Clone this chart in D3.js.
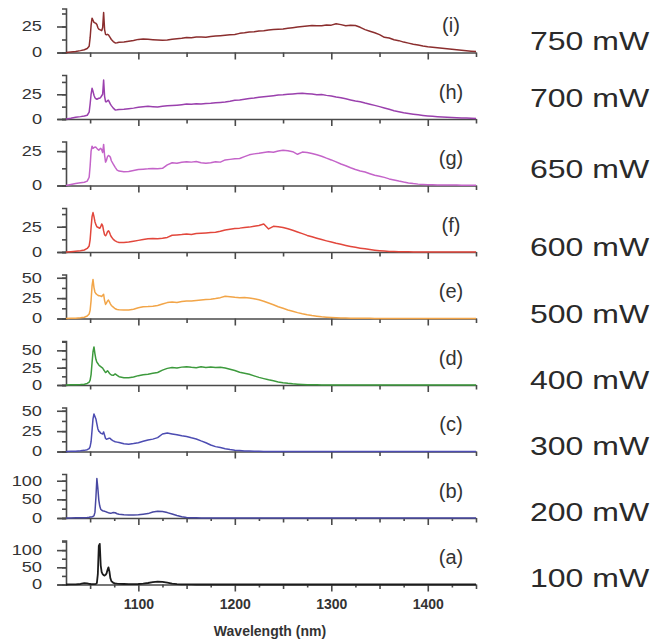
<!DOCTYPE html>
<html><head><meta charset="utf-8">
<script src="https://cdn.jsdelivr.net/npm/d3@7"></script>
<style>
body{margin:0;background:#fff;}
svg{display:block;font-family:"Liberation Sans",Arial,sans-serif;}
</style>
</head><body>
<svg id="chart" width="661" height="642"></svg>
<script>
// ---------------- data ----------------
const wavelength = [1025,1030,1035,1040,1044,1047,1049,1050,1051,1052,1053,1054,1055,1056,1057,1058,1059,1060,1061,1062,1063,1064,1065,1066,1067,1068,1069,1070,1071,1072,1074,1076,1078,
1080,1085,1090,1095,1100,1105,1110,1115,1120,1125,1130,1135,1140,1145,1150,1155,1160,1165,1170,1175,1180,1185,1190,1195,1200,
1205,1210,1215,1220,1225,1230,1235,1240,1245,1250,1255,1260,1265,1270,1275,1280,1285,1290,1295,1300,
1305,1310,1315,1320,1325,1330,1335,1340,1345,1350,1355,1360,1365,1370,1375,1380,1385,1390,1395,1400,
1405,1410,1415,1420,1425,1430,1435,1440,1445,1450];

const panelLetters = ["(i)","(h)","(g)","(f)","(e)","(d)","(c)","(b)","(a)"];
const powerLabels = ["750 mW","700 mW","650 mW","600 mW","500 mW","400 mW","300 mW","200 mW","100 mW"];
const yMax = [42.3,44.5,32,43.5,54,63.5,54,118,128];
const yLabelStep = [25,25,25,25,25,25,25,50,50];
const yMinorStep = [12.5,12.5,12.5,12.5,12.5,12.5,12.5,25,25];
const xMajorTicks = [1100,1200,1300,1400];
const xMinorTicks = [1050,1150,1250,1350,1450];
const xFineTicks = [1075,1125,1175,1225,1275,1325,1375,1425];

const series_i = [0,0.5,1,1.8,2.6,3.8,6,14,26,33,31,29,28.5,28,27,24,22.5,22,21.5,21,24,38.5,22,17.5,17,17.5,17,15.5,14,12.5,10.5,9.2,9.4,
9.8,10.2,10.8,11.5,12.6, 12.9,12.7,12.3,12.0,11.7, 12.1,12.8,13.2,13.6,14.4, 14.2,14.8,15.0,14.7,15.4, 15.8,16.1,16.5,17.0,17.4,
18.4,18.9,19.6,19.9,20.7, 21.0,21.6,22.0,22.4,22.6, 23.3,23.9,24.6,25.0,25.5, 25.9,25.6,25.8,26.5,26.3,
27.6,26.8,25.7,26.3,25.9, 24.2,22.0,20.5,19.0,17.2, 14.6,13.9,12.3,11.4,10.0, 9.0,8.0,7.2,6.3,5.6,
5.1,4.6,4.1,3.6,3.1, 2.6,2.2,1.7,1.3,0.9];

const series_h = [0,0.8,1.8,2.4,3,3.8,7,15,25,31,28,24,21.5,20.5,20,20.5,21,21,22,23.5,25,39.5,23,17.5,17.5,18.5,19,17,15,13.5,11,9.2,9.3,
9.6,9.9,10.4,11.0,11.8, 12.3,12.9,12.5,12.2,12.8, 13.3,13.6,14.0,14.5,15.1, 14.9,15.4,15.2,15.7,15.9, 16.4,16.8,17.3,18.0,18.9,
19.3,20.0,20.8,21.2,21.9, 22.5,23.0,23.6,24.2,24.5, 25.0,25.4,25.9,26.1,25.6, 25.2,24.6,24.8,23.9,23.2,
22.2,21.4,20.4,19.3,18.2, 17.4,16.1,15.0,13.8,12.5, 11.2,9.9,8.4,7.4,6.4, 5.6,4.9,4.2,3.6,3.1,
2.7,2.4,2.1,1.8,1.5, 1.3,1.1,0.9,0.8,0.6];

const series_g = [0,0.8,1.5,2.0,2.4,3.2,6,14,25,28.6,27,27.5,28,27.8,27,26.2,25.7,26.5,27,26,24,29.9,22,17,18.5,21,21.8,21.4,20.5,18,15.5,13.2,11.2,
10.5,10.0,10.2,10.9,11.6, 11.9,12.1,12.4,12.2,12.5, 15.0,16.5,16.2,16.9,17.3, 17.0,17.4,16.6,16.2,16.6, 17.3,17.0,18.6,19.0,19.4,
19.6,21.0,22.3,23.0,23.4, 24.0,24.5,24.2,25.1,25.7, 25.2,24.6,22.7,24.3,24.0, 23.2,22.3,21.3,19.9,18.6,
17.2,15.6,14.4,12.9,11.6, 10.6,9.8,8.6,7.4,6.7, 5.9,4.8,4.0,3.2,2.5, 1.9,1.4,1.0,0.8,0.6,
0.5,0.4,0.4,0.3,0.3, 0.3,0.2,0.2,0.2,0.2];

const series_f = [0,0.3,0.7,1.2,2.0,3.5,6,12,24,35,39,35,30,27,25,24.5,24,23.5,25,27.7,26,21,17,16,17.5,20,21,19.5,17,15,12.5,11,10,
9.4,9.3,9.8,10.6,11.5, 12.4,13.2,13.4,13.0,13.5, 14.4,16.6,16.9,17.2,17.8, 17.4,18.2,18.6,18.9,19.3, 19.6,20.5,21.8,22.6,23.2,
23.6,24.2,24.6,25.4,26.2, 27.7,22.8,25.4,25.0,24.2, 23.0,21.5,19.8,18.2,16.4, 15.0,13.6,12.3,11.0,9.8,
8.6,7.6,6.5,5.5,4.6, 3.8,3.1,2.4,1.8,1.3, 0.9,0.6,0.4,0.3,0.2, 0.2,0.1,0.1,0.1,0.1,
0.1,0.1,0.1,0.1,0, 0,0,0,0,0];

const series_e = [0,0.2,0.4,0.8,1.5,3,5.5,10,22,40,48,38,32.5,30.5,29.5,28.5,28,28,27.5,27,28.5,29.6,22,17.3,19,21.5,22.6,20.5,18,16,14,12,11,
10.6,10.3,10.5,11.4,13.2, 14.4,14.6,15.1,16.0,17.8, 19.5,20.2,19.7,20.8,21.5, 21.4,22.0,22.6,23.2,23.6, 24.5,25.6,27.3,26.6,26.0,
25.6,25.9,25.2,24.2,22.9, 21.2,19.0,16.8,14.5,12.5, 10.5,8.8,7.2,5.8,4.6, 3.6,2.8,2.1,1.6,1.2,
0.9,0.7,0.5,0.4,0.3, 0.3,0.2,0.2,0.1,0.1, 0.1,0,0,0,0, 0,0,0,0,0,
0,0,0,0,0, 0,0,0,0,0];

const series_d = [0,0.2,0.4,0.7,1.2,2.2,4,7,15,32,48,55,45,37,33,31,29,27.5,26.5,25.5,24.5,22,20,18,19,20.5,19,17,15.5,14.5,14,16,14,
12.0,10.6,10.4,11.5,13.5, 14.8,15.6,16.8,18.0,21.5, 24.0,25.2,24.6,25.8,26.5, 25.6,25.0,26.2,25.4,26.0, 25.1,25.6,24.4,22.8,21.0,
18.5,17.0,15.4,13.2,11.0, 9.2,7.5,6.0,4.4,3.3, 2.4,1.7,1.2,0.8,0.5, 0.3,0.2,0.1,0.1,0,
0,0,0,0,0, 0,0,0,0,0, 0,0,0,0,0, 0,0,0,0,0,
0,0,0,0,0, 0,0,0,0,0];

const series_c = [0,0.2,0.4,0.8,1.4,2.2,3.5,6,12,26,40,46,43,40,34,28,25,24,22.5,22,21.5,24,20,16,15,15.5,16,16.4,16,14.5,13,12,11.5,
11.0,9.4,9.0,9.8,10.8, 12.5,14.0,15.2,17.0,21.5, 22.8,21.6,20.5,19.2,18.4, 16.8,15.4,13.0,10.8,8.0, 6.0,4.8,3.4,2.4,1.6,
1.1,0.7,0.5,0.3,0.2, 0.1,0.1,0.1,0,0, 0,0,0,0,0, 0,0,0,0,0,
0,0,0,0,0, 0,0,0,0,0, 0,0,0,0,0, 0,0,0,0,0,
0,0,0,0,0, 0,0,0,0,0];

const series_b = [0,0.2,0.4,0.7,1,1.5,2,2.4,2.8,3.2,4,6,15,55,106,80,48,32,23.5,21,19.5,18.5,18,17,16,15,14,13.5,13,13,14.5,14,11.5,
10.2,8.8,8.0,8.2,8.8, 10.2,11.8,16.0,18.0,17.2, 14.5,10.5,6.5,3.4,1.6, 0.8,0.4,0.2,0.1,0, 0,0,0,0,0,
0,0,0,0,0, 0,0,0,0,0, 0,0,0,0,0, 0,0,0,0,0,
0,0,0,0,0, 0,0,0,0,0, 0,0,0,0,0, 0,0,0,0,0,
0,0,0,0,0, 0,0,0,0,0];

const series_a = [0,0.2,0.5,1.5,4,3,1.8,1.5,1.2,1,1,1,1.2,1.8,4,30,112,118,55,36,30,27,26,28,32,42,50,38,18,10,5,3.5,2.5,
2.0,1.4,1.0,1.0,1.4, 2.6,4.4,6.8,8.4,7.6, 5.2,2.8,1.2,0.5,0.2, 0.1,0,0,0,0, 0,0,0,0,0,
0,0,0,0,0, 0,0,0,0,0, 0,0,0,0,0, 0,0,0,0,0,
0,0,0,0,0, 0,0,0,0,0, 0,0,0,0,0, 0,0,0,0,0,
0,0,0,0,0, 0,0,0,0,0];

const seriesList = [series_i,series_h,series_g,series_f,series_e,series_d,series_c,series_b,series_a];
const lineColors = ["#8b2e2e","#9a40ad","#c464c9","#e2473c","#f2a548","#3d9a3d","#4c4cb2","#4848a2","#1c1c1c"];

// ---------------- layout ----------------
const svg = d3.select("#chart");
const firstBase = 52.5, panelGap = 66.5, panelH = 44;
const axisColor = "#4a4a4a";
const x = d3.scaleLinear().domain([1025,1450]).range([66,476]);
const xa = d3.scaleLinear().domain([x.invert(57),1450]).range([57,476]);

function stretch(sel, f){
  sel.each(function(){
    const L = this.getComputedTextLength();
    d3.select(this).attr("textLength", L*f).attr("lengthAdjust","spacingAndGlyphs");
  });
}

seriesList.forEach((vals, k) => {
  const base = firstBase + k*panelGap;
  const y = d3.scaleLinear().domain([0, yMax[k]]).range([base, base - panelH]);
  const last = (k === seriesList.length - 1);
  const fine = (yLabelStep[k] === 50);
  const g = svg.append("g");

  // x axis: baseline + ticks
  const gx = g.append("g").attr("transform", `translate(0,${base})`);
  gx.append("g").call(d3.axisBottom(xa).tickValues(xMinorTicks).tickSize(4.5).tickSizeOuter(0).tickFormat(""));
  if (fine) gx.append("g").call(d3.axisBottom(xa).tickValues(xFineTicks).tickSize(3).tickSizeOuter(0).tickFormat(""))
      .call(s => s.select(".domain").remove());
  const gMaj = gx.append("g").call(d3.axisBottom(xa).tickValues(xMajorTicks).tickSize(7).tickSizeOuter(0)
      .tickPadding(8).tickFormat(last ? d3.format("d") : ""));
  gMaj.select(".domain").remove();
  gx.selectAll("path,line").attr("stroke", axisColor).attr("stroke-width", 1.6);
  gx.selectAll("text").attr("fill","#333").attr("font-size",14).attr("font-weight","bold");

  // y axis
  const gy = g.append("g").attr("transform", `translate(${x(1025)},0)`);
  gy.append("g").call(d3.axisLeft(y).tickValues(d3.range(0, yMax[k], yMinorStep[k])).tickSize(4).tickSizeOuter(4).tickFormat(""));
  const gyl = gy.append("g").call(d3.axisLeft(y).tickValues(d3.range(0, yMax[k], yLabelStep[k])).tickSize(9).tickSizeOuter(0).tickPadding(15));
  gyl.select(".domain").remove();
  gy.selectAll("path,line").attr("stroke", axisColor).attr("stroke-width", 1.6);
  gyl.selectAll("text").attr("fill","#333").attr("font-size",14).attr("font-family","Liberation Sans, Arial, sans-serif")
     .call(s => stretch(s, 1.3));

  // spectrum line
  const line = d3.line().x((d,i) => x(wavelength[i])).y(d => y(d));
  g.append("path").datum(vals).attr("d", line).attr("fill","none")
    .attr("stroke", lineColors[k]).attr("stroke-width", last ? 1.8 : 1.5).attr("stroke-linejoin","round");

  // panel letter
  g.append("text").attr("x", 451).attr("y", base - 20.5).attr("text-anchor","middle")
    .attr("font-size", 20).attr("fill","#333").text(panelLetters[k]);
});

// power labels
const powerBase = [50,107,178,256,323,389,455,521,587];
svg.append("g").selectAll("text").data(powerLabels).join("text")
  .attr("x", 530).attr("y", (d,i) => powerBase[i])
  .attr("font-size", 25).attr("fill","#2a2a2a").text(d => d)
  .call(s => stretch(s, 1.28));

// x title
svg.append("text").attr("x", 270).attr("y", 636).attr("text-anchor","middle")
  .attr("font-size", 14).attr("font-weight","bold").attr("fill","#333").text("Wavelength (nm)");
</script>
</body></html>
